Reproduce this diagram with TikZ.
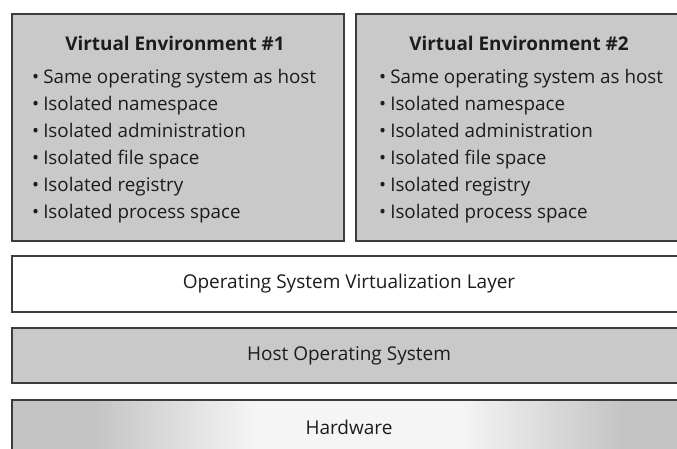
\documentclass[tikz,border=0pt]{standalone}
\usepackage{fontspec}
\setmainfont{Open Sans}
\definecolor{boxgray}{RGB}{201,201,201}
\definecolor{edgegray}{RGB}{60,60,60}
\definecolor{inkdark}{RGB}{28,28,28}
\definecolor{hwlight}{RGB}{245,245,245}
\definecolor{hwgray}{RGB}{196,196,196}
% horizontal gradient for the hardware strip (path spans 25bp..75bp)
\pgfdeclarehorizontalshading{hwshade}{100bp}{%
  color(0bp)=(hwgray); color(31bp)=(hwgray); color(43bp)=(hwlight);
  color(58bp)=(hwlight); color(70bp)=(hwgray); color(100bp)=(hwgray)}
\tikzset{
  panel/.style={draw=edgegray, line width=2pt, fill=boxgray},
  layer/.style={draw=edgegray, line width=2pt},
  title/.style={font=\bfseries\fontsize{18.9}{22}\selectfont, text=inkdark},
  item/.style={font=\fontsize{18.8}{22}\selectfont, text=inkdark, anchor=base west, inner sep=0pt},
  layertext/.style={font=\fontsize{19}{22}\selectfont, text=inkdark}
}
\begin{document}
\begin{tikzpicture}[x=1pt,y=-1pt]
  \useasboundingbox (0,0) rectangle (677,448);

  % virtual environments
  \draw[panel] (12,14) rectangle (344,241);
  \draw[panel] (356,14) rectangle (690,241);

  \node[title] (t1) at (175,43) {Virtual Environment \#1};
  \node[title] (t2) at (519,43) {Virtual Environment \#2};

  \foreach \txt [count=\i] in {Same operating system as host, Isolated namespace,
      Isolated administration, Isolated file space, Isolated registry,
      Isolated process space}{
    \node[item] (a\i) at (32,{56+27*\i}) {•\hspace{4pt}\txt};
    \node[item] (b\i) at (379,{56+27*\i}) {•\hspace{4pt}\txt};
  }

  % stacked layers
  \draw[layer, fill=white] (12,256) rectangle (690,312);
  \node[layertext] (osv) at (349,284) {Operating System Virtualization Layer};

  \draw[layer, fill=boxgray] (12,328) rectangle (690,383);
  \node[layertext] (host) at (349,356) {Host Operating System};

  \draw[layer, shading=hwshade] (12,400) rectangle (690,470);
  \node[layertext] (hw) at (349,427) {Hardware};
\end{tikzpicture}
\end{document}
